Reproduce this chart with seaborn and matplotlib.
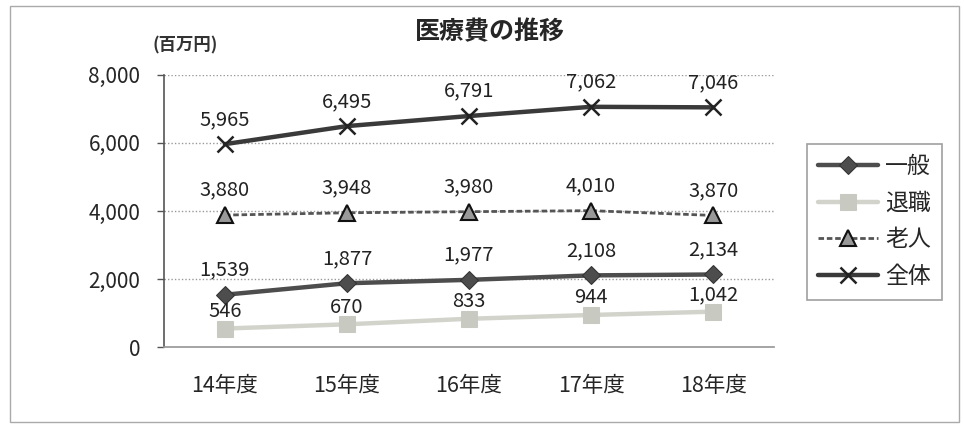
import matplotlib
matplotlib.use("Agg")
import matplotlib.pyplot as plt
import seaborn as sns
import pandas as pd
import numpy as np

categories = ["14年度", "15年度", "16年度", "17年度", "18年度"]
ippan = [1539, 1877, 1977, 2108, 2134]
taishoku = [546, 670, 833, 944, 1042]
rojin = [3880, 3948, 3980, 4010, 3870]
zentai = [5965, 6495, 6791, 7062, 7046]
series_names = ["一般", "退職", "老人", "全体"]
yticks = [0, 2000, 4000, 6000, 8000]

sns.set_theme(style="white")
plt.rcParams['font.family'] = ['Noto Sans CJK JP', 'DejaVu Sans']

fig = plt.figure(figsize=(9.64, 4.28), dpi=100)
ax = fig.add_axes([0.170, 0.189, 0.633, 0.636])

x = np.arange(len(categories))
data = {"一般": ippan, "退職": taishoku, "老人": rojin, "全体": zentai}
styles = {
    "一般": dict(color="#4d4d4d", marker="D", markersize=9, linewidth=3.2, linestyle="-", mfc="#4d4d4d", mec="#333333"),
    "退職": dict(color="#d2d4cc", marker="s", markersize=11, linewidth=3.2, linestyle="-", mfc="#c8cac2", mec="#c8cac2"),
    "老人": dict(color="#555555", marker="^", markersize=11, linewidth=2, linestyle=(0, (2, 1)), mfc="#999999", mec="#111111", mew=1.5),
    "全体": dict(color="#3a3a3a", marker="x", markersize=12, linewidth=3.2, linestyle="-", mfc="#222222", mec="#222222", mew=1.8),
}
label_offsets = {"一般": 420, "退職": 200, "老人": 420, "全体": 420}
for name in series_names:
    df = pd.DataFrame({"x": x, "y": data[name]})
    st = styles[name]
    sns.lineplot(data=df, x="x", y="y", ax=ax, label=name, **st)
    for xi, yi in zip(x, data[name]):
        ax.text(xi, yi + label_offsets[name], f"{yi:,}", ha="center", va="bottom", fontsize=14.5, color="#222222")

ax.set_xlim(-0.5, len(categories) - 0.5)
ax.set_ylim(0, 8000)
ax.set_yticks(yticks)
ax.set_yticklabels([f"{v:,}" for v in yticks], fontsize=15)
ax.set_xticks(x)
ax.set_xticklabels(categories, fontsize=15.5)
ax.set_xticks(np.arange(-0.5, len(categories), 1.0), minor=True)
ax.tick_params(axis="x", which="major", length=0, pad=20)
ax.tick_params(axis="x", which="minor", length=5, color="#555555", width=1, direction="out")
ax.tick_params(axis="y", which="major", length=5, color="#555555", width=1, direction="out", left=True, pad=12)
ax.set_xlabel("")
ax.set_ylabel("")
for v in yticks[1:]:
    ax.axhline(v, color="#999999", linestyle=(0, (1, 1.5)), linewidth=1, zorder=0)
for s in ["top", "right"]:
    ax.spines[s].set_visible(False)
ax.spines["left"].set_color("#555555")
ax.spines["bottom"].set_color("#999999")
ax.spines["left"].set_linewidth(1.2)

leg = ax.legend(loc="upper left", bbox_to_anchor=(1.035, 0.79), fontsize=16.5, frameon=True,
                fancybox=False, edgecolor="#888888", handlelength=2.6, labelspacing=0.6,
                borderpad=0.5, handletextpad=0.3)
leg.get_frame().set_linewidth(1.2)

fig.text(0.508, 0.925, "医療費の推移", ha="center", va="center", fontsize=18, fontweight="bold")
fig.text(0.192, 0.893, "(百万円)", ha="center", va="center", fontsize=12.5, fontweight="bold", color="#333333")

border = plt.Rectangle((0.01, 0.015), 0.985, 0.97, transform=fig.transFigure, fill=False,
                       edgecolor="#aaaaaa", linewidth=1)
fig.add_artist(border)

fig.savefig("out.png", dpi=100)
